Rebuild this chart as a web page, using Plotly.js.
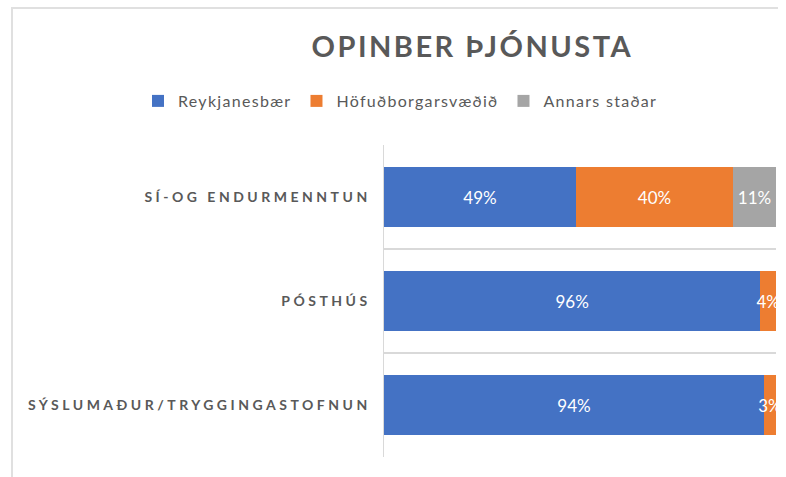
<!DOCTYPE html>
<html>
<head>
<meta charset="utf-8">
<script src="https://cdn.plot.ly/plotly-3.0.1.min.js"></script>
<style>
  html, body { margin:0; padding:0; background:#ffffff; }
  #frame { position:absolute; left:11px; top:7px; width:765px; height:480px;
           border-left:2px solid #e0e0e0; border-top:2px solid #e0e0e0; }
  #chart { position:absolute; left:0; top:0; width:786px; height:477px; }
  .gtitle { letter-spacing: 2.5px; }
  .ytick text { letter-spacing: 3.5px; }
  .legendtext { letter-spacing: 1.3px; }
</style>
</head>
<body>
<div id="frame"></div>
<div id="chart"></div>
<script>
const categories = ['SÍ-OG ENDURMENNTUN', 'PÓSTHÚS', 'SÝSLUMAÐUR/TRYGGINGASTOFNUN'];
const seriesNames = ['Reykjanesbær', 'Höfuðborgarsvæðið', 'Annars staðar'];
const reykjanesbaer = [49, 96, 94];
const hofudborgarsvaedid = [40, 4, 3];
const annarsStadar = [11, 0, 0];
const colors = ['#4472c4', '#ed7d31', '#a5a5a5'];

const seriesValues = [reykjanesbaer, hofudborgarsvaedid, annarsStadar];

const traces = seriesValues.map((vals, i) => ({
  type: 'bar',
  orientation: 'h',
  name: seriesNames[i],
  y: categories,
  x: vals,
  text: vals.map(v => v > 0 ? v + '%' : ''),
  textposition: 'inside',
  insidetextanchor: 'middle',
  textangle: 0,
  constraintext: 'none',
  cliponaxis: true,
  textfont: { family: 'Lato, sans-serif', size: 17, color: '#ffffff' },
  marker: { color: colors[i], line: { width: 0 } },
  hoverinfo: 'none'
}));

const layout = {
  width: 786,
  height: 477,
  margin: { l: 384, r: 10, t: 145, b: 20, autoexpand: false },
  paper_bgcolor: 'rgba(0,0,0,0)',
  plot_bgcolor: 'rgba(0,0,0,0)',
  barmode: 'stack',
  barnorm: 'percent',
  bargap: 0.43,
  showlegend: true,
  title: {
    text: '<b>OPINBER ÞJÓNUSTA</b>',
    font: { family: 'Lato, sans-serif', size: 29, color: '#595959' },
    x: 0.601, xref: 'container', xanchor: 'center',
    y: 0.902, yref: 'container', yanchor: 'middle'
  },
  legend: {
    orientation: 'h',
    traceorder: 'normal',
    xref: 'paper',
    x: (138 - 384) / 392, xanchor: 'left',
    yref: 'paper',
    y: (457 - 101) / 312, yanchor: 'middle',
    font: { family: 'Lato, sans-serif', size: 16, color: '#595959' },
    itemclick: false, itemdoubleclick: false
  },
  xaxis: {
    range: [0, 100],
    visible: false,
    fixedrange: true
  },
  yaxis: {
    type: 'category',
    autorange: 'reversed',
    tickson: 'boundaries',
    showgrid: true,
    gridcolor: '#d9d9d9',
    gridwidth: 1.5,
    showline: true,
    linecolor: '#d9d9d9',
    linewidth: 1.5,
    ticks: '',
    ticklabelstandoff: 9,
    automargin: false,
    tickfont: { family: 'Lato, sans-serif', size: 14, color: '#595959', weight: 'bold' },
    fixedrange: true
  }
};

Plotly.newPlot('chart', traces, layout, { displayModeBar: false, staticPlot: true });
</script>
</body>
</html>
